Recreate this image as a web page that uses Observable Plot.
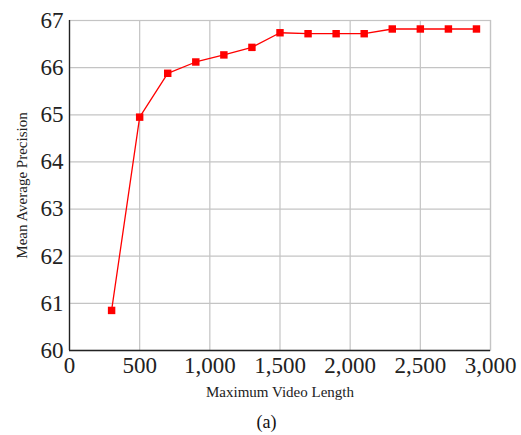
<!DOCTYPE html>
<html><head><meta charset="utf-8">
<script src="https://cdn.jsdelivr.net/npm/d3@7"></script>
<script src="https://cdn.jsdelivr.net/npm/@observablehq/plot@0.6"></script>
<style>
body{margin:0;background:#fff;font-family:"Liberation Serif",serif}
#cap{text-align:center;font-size:18px;color:#111;margin-top:7px;padding-left:12px}
svg text, svg g{font-family:"Liberation Serif",serif !important}
</style></head><body><div id="chart"></div><div id="cap">(a)</div>
<script>
const lengths = [300, 500, 700, 900, 1100, 1300, 1500, 1700, 1900, 2100, 2300, 2500, 2700, 2900];
const mAP = [60.85, 64.95, 65.88, 66.12, 66.27, 66.43, 66.74, 66.72, 66.72, 66.72, 66.82, 66.82, 66.82, 66.82];
const xTicks = [0, 500, 1000, 1500, 2000, 2500, 3000];
const yTicks = [60, 61, 62, 63, 64, 65, 66, 67];
const xLabel = "Maximum Video Length";
const yLabel = "Mean Average Precision";

const data = lengths.map((x, i) => ({x, y: mAP[i]}));
const fmt = d3.format(",");
const ff = "Liberation Serif";
const plot = Plot.plot({
  width: 521, height: 405,
  marginLeft: 69, marginRight: 31, marginTop: 20, marginBottom: 55,
  style: {fontFamily: ff, background: "white", color: "#222"},
  x: {domain: [0, 3000], label: null},
  y: {domain: [60, 67], label: null},
  marks: [
    Plot.gridX(xTicks, {stroke: "#c4c4c4", strokeOpacity: 1, strokeWidth: 1.2}),
    Plot.gridY(yTicks, {stroke: "#c4c4c4", strokeOpacity: 1, strokeWidth: 1.2}),
    Plot.frame({stroke: "#c4c4c4", strokeWidth: 1.2}),
    Plot.ruleX([0], {stroke: "#222", strokeWidth: 1.3}),
    Plot.ruleY([60], {stroke: "#222", strokeWidth: 1.3}),
    Plot.axisX({ticks: xTicks, tickFormat: fmt, tickSize: 0, tickPadding: 6, fontSize: 23, fontFamily: ff, fontVariant: "normal", label: null, fill: "#222"}),
    Plot.axisY({ticks: yTicks, tickFormat: d3.format("d"), tickSize: 0, tickPadding: 6, fontSize: 23, fontFamily: ff, fontVariant: "normal", label: null, fill: "#222"}),
    Plot.text([xLabel], {text: d => d, frameAnchor: "bottom", dy: 46, fontSize: 15, fontFamily: ff, fill: "#222"}),
    Plot.text([yLabel], {text: d => d, frameAnchor: "left", textAnchor: "middle", dx: -47, rotate: -90, fontSize: 15, fontFamily: ff, fill: "#222"}),
    Plot.line(data, {x: "x", y: "y", stroke: "red", strokeWidth: 1.3}),
    Plot.dot(data, {x: "x", y: "y", symbol: "square", fill: "red", r: 4.2})
  ]
});
document.getElementById("chart").append(plot);
</script></body></html>
